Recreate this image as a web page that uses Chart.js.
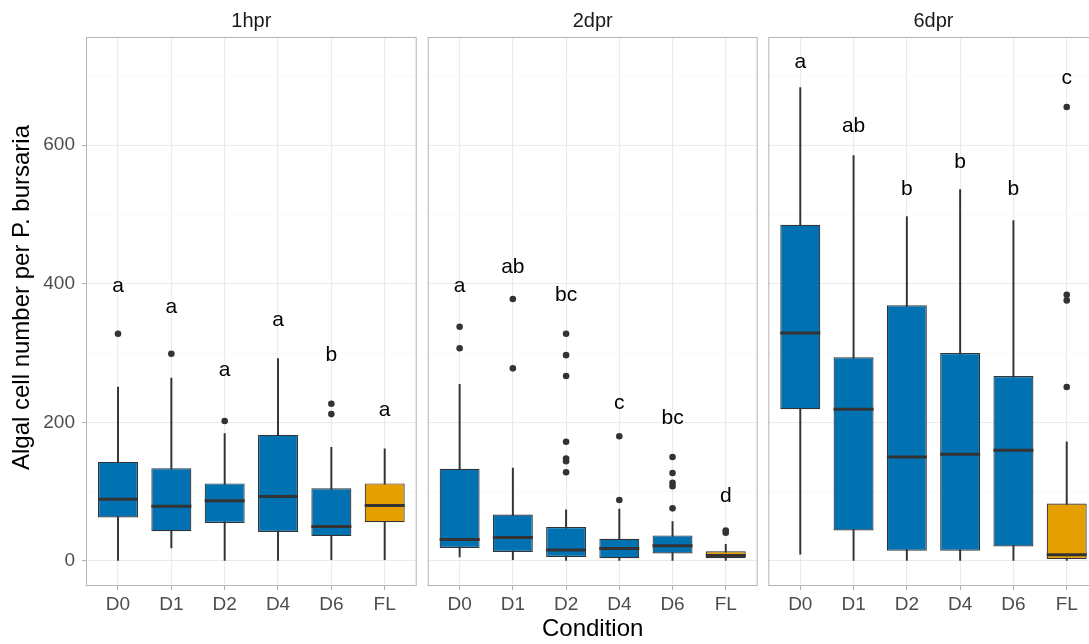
<!DOCTYPE html>
<html>
<head>
<meta charset="utf-8">
<script src="https://cdn.jsdelivr.net/npm/chart.js@4.4.1/dist/chart.umd.min.js"></script>
<style>
  html, body { margin: 0; padding: 0; background: #ffffff; }
  #wrap { position: relative; width: 1089px; height: 644px; overflow: hidden; background: #ffffff; }
  #wrap canvas { position: absolute; top: 0; }
</style>
</head>
<body>
<div id="wrap">
  <canvas id="panel1" width="422" height="644" style="left:0px;width:422px;height:644px"></canvas>
  <canvas id="panel2" width="345" height="644" style="left:420px;width:345px;height:644px"></canvas>
  <canvas id="panel3" width="345" height="644" style="left:760px;width:345px;height:644px"></canvas>
</div>
<script>
// Conditions on the x axis and the three time points (facets)
const conditions = ['D0', 'D1', 'D2', 'D4', 'D6', 'FL'];
const timepoints = ['1hpr', '2dpr', '6dpr'];

// Y axis: labelled ticks and all grid values (minor lines at the odd hundreds)
const yTickLabels = [0, 200, 400, 600];
const yGridValues = [0, 100, 200, 300, 400, 500, 600, 700];

// 1 hour post-rescue: box statistics per condition
const hpr1Low     = [0, 19, 0, 0, 2, 2];
const hpr1Q1      = [63, 43, 55, 42, 36, 56];
const hpr1Median  = [89, 79, 87, 93, 50, 80];
const hpr1Q3      = [143, 134, 112, 182, 105, 112];
const hpr1High    = [251, 264, 184, 292, 164, 162];
const hpr1Outliers = [[328], [299], [202], [], [227, 212], []];
const hpr1Letters = ['a', 'a', 'a', 'a', 'b', 'a'];
const hpr1LetterY = [397, 366, 276, 348, 297, 217];

// 2 days post-rescue
const dpr2Low     = [6, 2, 0, 0, 1, 0];
const dpr2Q1      = [19, 13, 6, 4, 11, 4];
const dpr2Median  = [31, 34, 16, 18, 22, 8];
const dpr2Q3      = [133, 67, 49, 32, 37, 14];
const dpr2High    = [255, 134, 74, 75, 57, 24];
const dpr2Outliers = [[338, 307], [378, 278], [328, 297, 267, 172, 148, 144, 128], [180, 88], [150, 127, 113, 108, 76], [44, 41]];
const dpr2Letters = ['a', 'ab', 'bc', 'c', 'bc', 'd'];
const dpr2LetterY = [396, 424, 384, 227, 206, 94];

// 6 days post-rescue
const dpr6Low     = [10, 0, 0, 0, 0, 0];
const dpr6Q1      = [219, 44, 15, 15, 21, 3];
const dpr6Median  = [329, 219, 150, 154, 160, 9];
const dpr6Q3      = [485, 294, 369, 300, 267, 83];
const dpr6High    = [683, 585, 497, 536, 491, 172];
const dpr6Outliers = [[], [], [], [], [], [655, 384, 376, 251]];
const dpr6Letters = ['a', 'ab', 'b', 'b', 'b', 'c'];
const dpr6LetterY = [720, 628, 537, 576, 537, 696];

const FONT = "'Liberation Sans', Arial, Helvetica, sans-serif";
const INK = '#333333';
const fillFor = c => (c === 'FL' ? '#E69F00' : '#0072B2');
const isMajor = v => yTickLabels.includes(v);

// Panel frame, strip label, significance letters and (first panel) the y title
const facetDecor = {
  id: 'facetDecor',
  afterDatasetsDraw(chart, args, opts) {
    const { ctx, chartArea: a, scales: { x, y } } = chart;
    ctx.save();
    ctx.fillStyle = '#000000';
    ctx.font = `21px ${FONT}`;
    ctx.textAlign = 'center';
    ctx.textBaseline = 'middle';
    opts.letters.forEach((t, i) => {
      ctx.fillText(t, x.getPixelForValue(i), y.getPixelForValue(opts.letterY[i]));
    });
    ctx.strokeStyle = '#B3B3B3';
    ctx.lineWidth = 1;
    ctx.strokeRect(a.left + 0.5, a.top + 0.5, a.width - 1, a.height - 1);
    ctx.fillStyle = '#1A1A1A';
    ctx.font = `20px ${FONT}`;
    ctx.textBaseline = 'alphabetic';
    ctx.fillText(opts.strip, (a.left + a.right) / 2, a.top - 10.3);
    if (opts.yTitle) {
      ctx.translate(28.5, 297.5);
      ctx.rotate(-Math.PI / 2);
      ctx.fillStyle = '#000000';
      ctx.font = `24px ${FONT}`;
      ctx.textAlign = 'center';
      ctx.fillText(opts.yTitle, 0, 0);
    }
    ctx.restore();
  }
};

function panelDatasets(low, q1, med, q3, high, outliers) {
  const idx = conditions.map((_, i) => i);
  return [
    {
      type: 'bar', label: 'whiskers',
      data: idx.map(i => ({ x: i, y: [low[i], high[i]] })),
      backgroundColor: INK, borderWidth: 0, barThickness: 1.3, grouped: false, order: 3
    },
    {
      type: 'bar', label: 'interquartile range',
      data: idx.map(i => ({ x: i, y: [q1[i], q3[i]] })),
      backgroundColor: conditions.map(fillFor), borderColor: INK, borderWidth: 1.2,
      borderSkipped: false, barPercentage: 0.75, categoryPercentage: 1, grouped: false, order: 2
    },
    {
      type: 'line', label: 'median',
      data: idx.map(i => ({ x: i, y: med[i] })),
      showLine: false, pointStyle: 'line', pointRadius: 20, pointHoverRadius: 20,
      pointBorderWidth: 3, pointBorderColor: INK, borderColor: INK, order: 1
    },
    {
      type: 'line', label: 'outliers',
      data: outliers.flatMap((vals, i) => vals.map(v => ({ x: i, y: v }))),
      showLine: false, pointRadius: 3.3, pointHoverRadius: 3.3,
      pointBackgroundColor: INK, pointBorderColor: INK, pointBorderWidth: 0, order: 0
    }
  ];
}

function panelScales(showY, showXTitle) {
  return {
    x: {
      type: 'linear', min: -0.6, max: 5.6, offset: false,
      afterBuildTicks: s => { s.ticks = conditions.map((_, i) => ({ value: i })); },
      afterFit: s => { s.height = 58; s.paddingLeft = 0; s.paddingRight = 0; },
      ticks: {
        callback: v => conditions[v] ?? '',
        font: { family: FONT, size: 19 }, color: '#4D4D4D',
        padding: 3.5, autoSkip: false, maxRotation: 0, minRotation: 0
      },
      grid: { offset: false, color: '#EBEBEB', lineWidth: 1.1, tickLength: 4, tickColor: '#B3B3B3' },
      border: { display: false },
      title: {
        display: showXTitle, text: 'Condition', color: '#000000',
        font: { family: FONT, size: 24, lineHeight: 1.2 }, padding: { top: 0, bottom: 0 }
      }
    },
    y: {
      type: 'linear', min: -36, max: 756,
      afterBuildTicks: s => { s.ticks = yGridValues.map(v => ({ value: v })); },
      afterFit: s => { s.width = showY ? 86 : 0; s.paddingTop = 0; s.paddingBottom = 0; },
      ticks: {
        display: showY,
        callback: v => (isMajor(v) ? String(v) : ''),
        font: { family: FONT, size: 19 }, color: '#4D4D4D', padding: 7
      },
      grid: {
        color: c => (c.tick && isMajor(c.tick.value) ? '#EBEBEB' : '#F5F5F5'),
        lineWidth: c => (c.tick && isMajor(c.tick.value) ? 1.1 : 0.6),
        drawTicks: showY, tickLength: 4,
        tickColor: c => (c.tick && isMajor(c.tick.value) ? '#B3B3B3' : 'rgba(0,0,0,0)')
      },
      border: { display: false }
    }
  };
}

function makePanel(canvasId, strip, stats, letters, letterY, pad, showY, showXTitle) {
  return new Chart(document.getElementById(canvasId), {
    type: 'bar',
    data: { datasets: panelDatasets(...stats) },
    options: {
      responsive: false, animation: false, events: [],
      layout: { autoPadding: false, padding: { left: pad[0], right: pad[1], top: 37, bottom: 0 } },
      scales: panelScales(showY, showXTitle),
      plugins: {
        legend: { display: false }, tooltip: { enabled: false }, title: { display: false },
        facetDecor: { strip, letters, letterY, yTitle: showY ? 'Algal cell number per P. bursaria' : null }
      }
    },
    plugins: [facetDecor]
  });
}

makePanel('panel1', timepoints[0],
  [hpr1Low, hpr1Q1, hpr1Median, hpr1Q3, hpr1High, hpr1Outliers],
  hpr1Letters, hpr1LetterY, [0, 5.3], true, false);
makePanel('panel2', timepoints[1],
  [dpr2Low, dpr2Q1, dpr2Median, dpr2Q3, dpr2High, dpr2Outliers],
  dpr2Letters, dpr2LetterY, [7.7, 7.3], false, true);
makePanel('panel3', timepoints[2],
  [dpr6Low, dpr6Q1, dpr6Median, dpr6Q3, dpr6High, dpr6Outliers],
  dpr6Letters, dpr6LetterY, [8.3, 6.3], false, false);
</script>
</body>
</html>
